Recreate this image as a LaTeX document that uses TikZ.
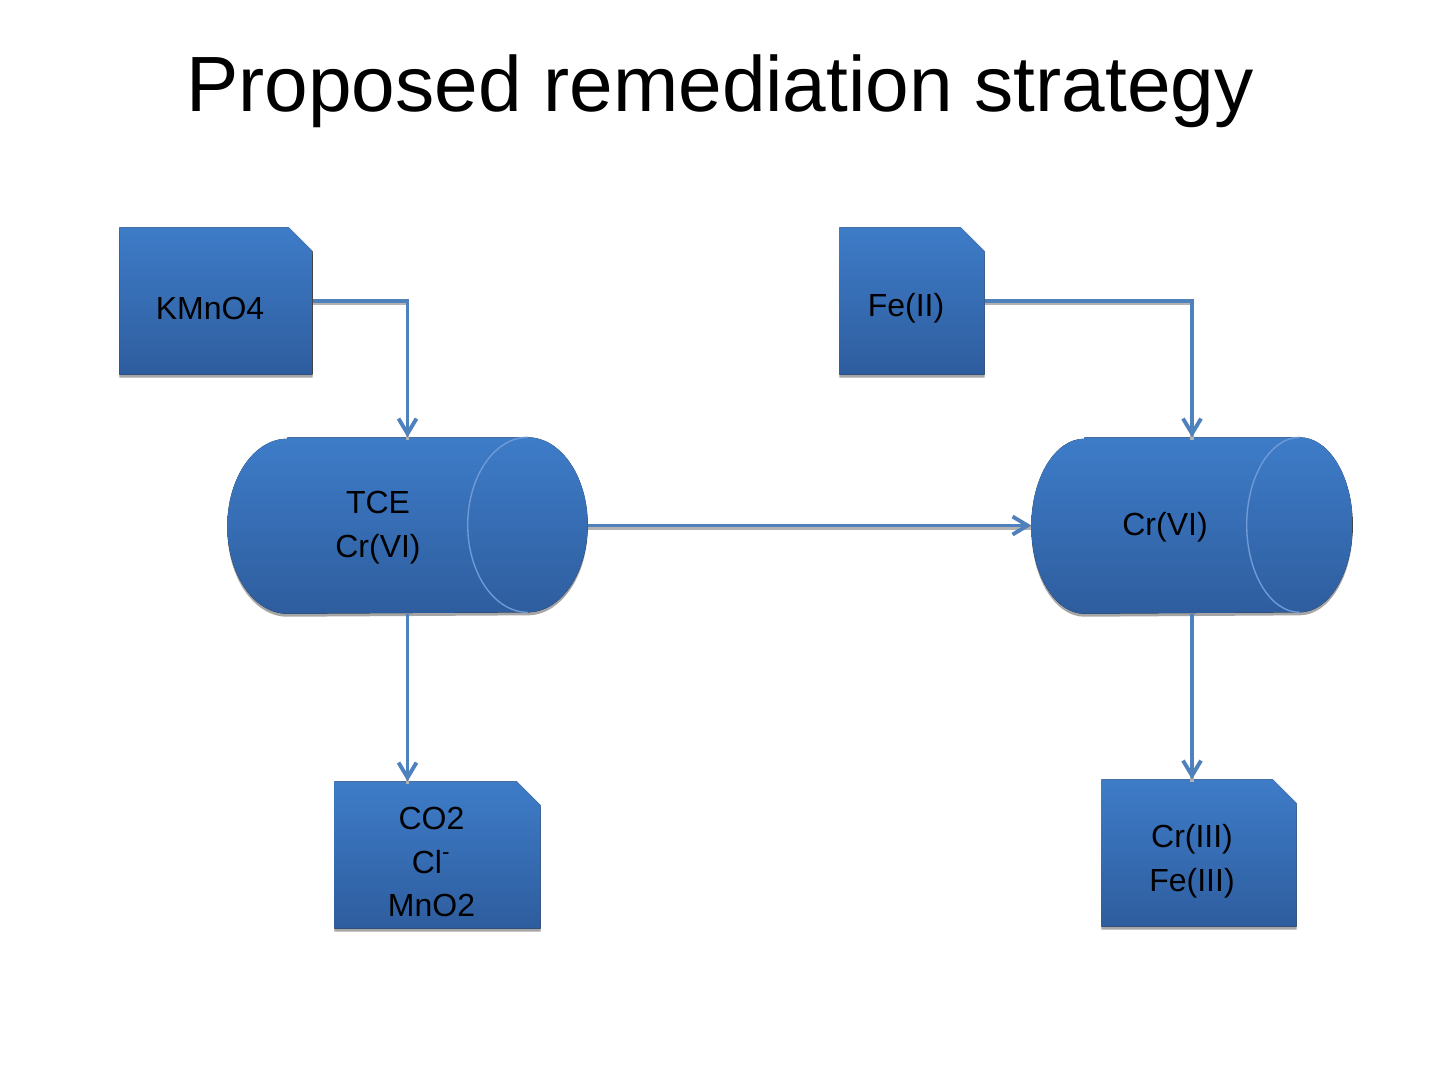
\documentclass[tikz,border=0pt]{standalone}
\usepackage{fontspec}
\setmainfont{Liberation Sans}
\usetikzlibrary{arrows.meta,shadows}
\definecolor{lienbleu}{RGB}{79,129,189}
\definecolor{hautbleu}{RGB}{62,124,200}
\definecolor{basbleu}{RGB}{46,93,158}
\definecolor{bordbleu}{RGB}{110,155,215}
\tikzset{
  ombre/.style={drop shadow={shadow xshift=0mm, shadow yshift=-0.3mm, fill=black!35, opacity=1}},
  degrade/.style={top color=hautbleu, bottom color=basbleu},
  cadre/.style={rectangle, draw=none, inner sep=0pt},
  texte/.style={align=center, font=\fontsize{9.1}{12.5}\selectfont, inner sep=0pt},
  fleche/.style={draw=lienbleu, line width=1.1pt,
    -{Straight Barb[length=1.5mm,width=1.8mm,line width=1.1pt]},
    preaction={draw=black!30, line width=1.1pt, transform canvas={yshift=-0.25mm}, -}}
}
\begin{document}
\begin{tikzpicture}[x=0.1mm,y=-0.1mm]
  \useasboundingbox[fill=white] (0,0) rectangle (1440,1080);
  \pgfmathsetmacro{\hfiche}{146}
  \pgfmathsetmacro{\hcuve}{175}
  \node at (720,91) {\fontsize{22.3}{26}\selectfont Proposed remediation strategy};
  % fiches
  \node[cadre, minimum width=192*0.1mm, minimum height=\hfiche*0.1mm] (kmno) at (216,301) {};
  \node[cadre, minimum width=144*0.1mm, minimum height=\hfiche*0.1mm] (feii) at (912,301) {};
  \node[cadre, minimum width=205*0.1mm, minimum height=\hfiche*0.1mm] (produn) at (437.5,855) {};
  \node[cadre, minimum width=194*0.1mm, minimum height=\hfiche*0.1mm] (proddeux) at (1199,853) {};
  \foreach \n in {kmno,feii,produn,proddeux}
    \fill[degrade, ombre] (\n.south west) -- (\n.north west) -- ([xshift=-2.4mm]\n.north east)
      -- ([yshift=-2.4mm]\n.north east) -- (\n.south east) -- cycle;
  \node[texte, xshift=-0.6mm, yshift=-0.7mm] (tkmno) at (kmno.center) {KMnO4};
  \node[texte, xshift=-0.6mm, yshift=-0.7mm] (tfeii) at (feii.center) {Fe(II)};
  \node[texte, xshift=-0.6mm, yshift=-0.7mm] (tprodun) at (produn.center) {CO2\\Cl\textsuperscript{-}\\MnO2};
  \node[texte, xshift=-0.7mm, yshift=-0.8mm] (tproddeux) at (proddeux.center) {Cr(III)\\Fe(III)};
  % cuves
  \node[cadre, minimum width=359*0.1mm, minimum height=\hcuve*0.1mm] (cuveun) at (407.5,525.5) {};
  \node[cadre, minimum width=320*0.1mm, minimum height=\hcuve*0.1mm] (cuvedeux) at (1192,525.5) {};
  \fill[degrade, ombre] ([xshift=6mm]cuveun.north west) -- ([xshift=-6mm]cuveun.north east)
    arc[start angle=90, end angle=-90, x radius=6mm, y radius=8.75mm]
    -- ([xshift=6mm]cuveun.south west)
    arc[start angle=270, end angle=90, x radius=6mm, y radius=8.75mm] -- cycle;
  \draw[bordbleu, line width=0.4pt] ([xshift=-6mm]cuveun.north east)
    arc[start angle=90, end angle=270, x radius=6mm, y radius=8.75mm];
  \fill[degrade, ombre] ([xshift=5.3mm]cuvedeux.north west) -- ([xshift=-5.3mm]cuvedeux.north east)
    arc[start angle=90, end angle=-90, x radius=5.3mm, y radius=8.75mm]
    -- ([xshift=5.3mm]cuvedeux.south west)
    arc[start angle=270, end angle=90, x radius=5.3mm, y radius=8.75mm] -- cycle;
  \draw[bordbleu, line width=0.4pt] ([xshift=-5.3mm]cuvedeux.north east)
    arc[start angle=90, end angle=270, x radius=5.3mm, y radius=8.75mm];
  \node[texte, xshift=-2.95mm, yshift=-0.25mm] (tcuveun) at (cuveun.center) {TCE\\Cr(VI)};
  \node[texte, xshift=-2.7mm, yshift=-0.15mm] (tcuvedeux) at (cuvedeux.center) {Cr(VI)};
  % fleches
  \draw[fleche] (kmno.east) -| (cuveun.north);
  \draw[fleche] (feii.east) -| (cuvedeux.north);
  \draw[fleche] (cuveun.east) -- (cuvedeux.west);
  \draw[fleche] (cuveun.south) -- (cuveun.south |- produn.north);
  \draw[fleche] (cuvedeux.south) -- (cuvedeux.south |- proddeux.north);
\end{tikzpicture}
\end{document}
